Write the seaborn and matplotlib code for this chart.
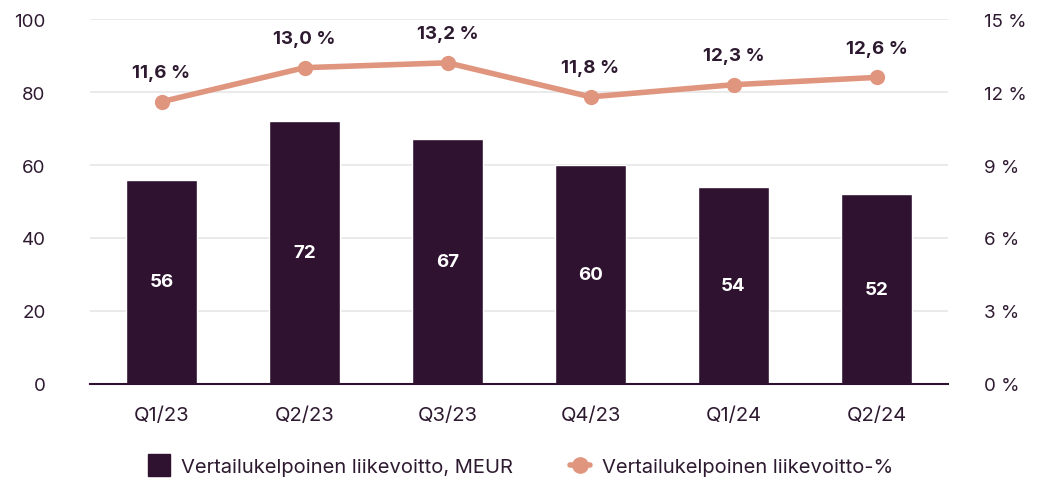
import pandas as pd
import matplotlib.pyplot as plt
import seaborn as sns
from matplotlib.lines import Line2D

# Chart data
quarters = ['Q1/23', 'Q2/23', 'Q3/23', 'Q4/23', 'Q1/24', 'Q2/24']
profit_meur = [56, 72, 67, 60, 54, 52]
margin_pct = [11.6, 13.0, 13.2, 11.8, 12.3, 12.6]

df = pd.DataFrame({'quarter': quarters, 'profit': profit_meur, 'margin': margin_pct})

bar_color = '#2e1230'
line_color = '#e0957f'
text_color = '#2e1a30'

sns.set_theme(style='white')
plt.rcParams['font.family'] = ['Inter', 'DejaVu Sans']

fig = plt.figure(figsize=(10.42, 4.81), dpi=100)
ax = fig.add_axes([0.0864, 0.1996, 0.8234, 0.7588])

sns.barplot(data=df, x='quarter', y='profit', color=bar_color, width=0.5,
            saturation=1, ax=ax, zorder=2)
ax.set_ylim(0, 100)
ax.set_yticks(range(0, 101, 20))
ax.set_xlim(-0.5, len(quarters) - 0.5)
ax.grid(axis='y', color='#e6e6e6', linewidth=1.2, zorder=0)
ax.set_axisbelow(True)
ax.set_xlabel('')
ax.set_ylabel('')
for s in ['top', 'right', 'left']:
    ax.spines[s].set_visible(False)
ax.spines['bottom'].set_color(bar_color)
ax.spines['bottom'].set_linewidth(1.5)
ax.tick_params(axis='y', length=0, labelsize=13.5, colors=text_color, pad=32)
ax.tick_params(axis='x', length=0, labelsize=14.5, colors=text_color, pad=16)

# value labels inside bars
for i, v in enumerate(profit_meur):
    ax.text(i, v / 2, f'{v}', ha='center', va='center', color='white',
            fontsize=13.5, fontweight='bold')

ax2 = ax.twinx()
sns.lineplot(x=list(range(len(quarters))), y=margin_pct, color=line_color,
             linewidth=4, marker='o', markersize=11, markeredgewidth=0, ax=ax2)
ax2.set_ylim(0, 15)
ax2.set_yticks(range(0, 16, 3))
ax2.set_yticklabels([f'{t} %' for t in range(0, 16, 3)])
ax2.set_xlim(-0.5, len(quarters) - 0.5)
for s in ['top', 'right', 'left', 'bottom']:
    ax2.spines[s].set_visible(False)
ax2.tick_params(axis='y', length=0, labelsize=13.5, colors=text_color, pad=26)
for i, v in enumerate(margin_pct):
    ax2.text(i, v + 0.85, f'{v:.1f} %'.replace('.', ','), ha='center', va='bottom',
             color=text_color, fontsize=13.5, fontweight='bold')

handles = [
    Line2D([0], [0], linestyle='none', marker='s', markersize=16, color=bar_color,
           label='Vertailukelpoinen liikevoitto, MEUR'),
    Line2D([0], [0], color=line_color, linewidth=4, marker='o', markersize=11,
           label='Vertailukelpoinen liikevoitto-%'),
]
leg = fig.legend(handles=handles, loc='lower center', bbox_to_anchor=(0.5, -0.03),
                 ncol=2, frameon=False, fontsize=14.5, handlelength=1.0,
                 handletextpad=0.6, columnspacing=2.8)
for t in leg.get_texts():
    t.set_color(text_color)

fig.savefig('out.png', dpi=100)
